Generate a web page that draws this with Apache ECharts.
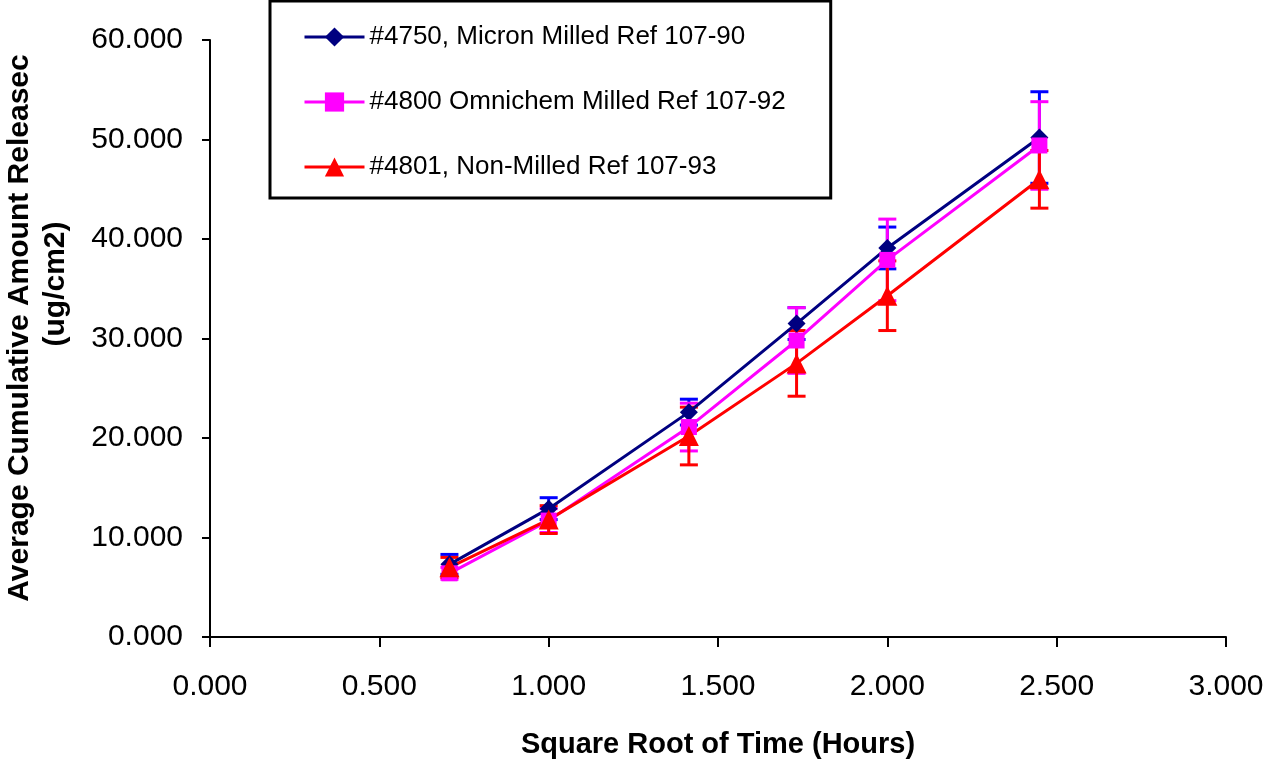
<!DOCTYPE html>
<html>
<head>
<meta charset="utf-8">
<title>Cumulative amount released</title>
<script src="https://cdn.jsdelivr.net/npm/echarts@6/dist/echarts.min.js"></script>
<style>
  html, body { margin: 0; padding: 0; background: #fff; }
  #chart { width: 1266px; height: 760px; }
</style>
</head>
<body>
<div id="chart"></div>
<script>
  const sqrtTime = [0.707, 1.0, 1.414, 1.732, 2.0, 2.449];

  const micronName = '#4750, Micron Milled Ref 107-90';
  const micronMean = [7.3, 12.9, 22.6, 31.5, 39.1, 50.2];
  const micronErr = [1.0, 1.1, 1.3, 1.6, 2.1, 4.6];

  const omniName = '#4800 Omnichem Milled Ref 107-92';
  const omniMean = [6.4, 11.7, 21.1, 29.8, 37.9, 49.4];
  const omniErr = [0.6, 1.2, 2.4, 3.3, 4.1, 4.4];

  const nonName = '#4801, Non-Milled Ref 107-93';
  const nonMean = [7.0, 11.8, 20.2, 27.5, 34.3, 46.0];
  const nonErr = [1.0, 1.4, 2.9, 3.3, 3.5, 2.9];

  const FONT = "'Liberation Sans', Arial, sans-serif";

  function pairs(means) {
    return sqrtTime.map((x, i) => [x, means[i]]);
  }

  function bars(means, errs) {
    return sqrtTime.map((x, i) => [x, means[i] - errs[i], means[i] + errs[i]]);
  }

  function errorBarSeries(means, errs, color) {
    return {
      type: 'custom',
      z: 1,
      silent: true,
      data: bars(means, errs),
      renderItem: (params, api) => {
        const x = api.value(0);
        const lo = api.coord([x, api.value(1)]);
        const hi = api.coord([x, api.value(2)]);
        const half = 9;
        const style = { stroke: color, lineWidth: 3 };
        return {
          type: 'group',
          children: [
            { type: 'line', shape: { x1: lo[0], y1: lo[1], x2: hi[0], y2: hi[1] }, style },
            { type: 'line', shape: { x1: lo[0] - half, y1: lo[1], x2: lo[0] + half, y2: lo[1] }, style },
            { type: 'line', shape: { x1: hi[0] - half, y1: hi[1], x2: hi[0] + half, y2: hi[1] }, style },
          ],
        };
      },
    };
  }

  function lineSeries(name, means, color, symbol, size) {
    return {
      name,
      type: 'line',
      z: 3,
      data: pairs(means),
      symbol,
      symbolSize: size,
      showAllSymbol: true,
      lineStyle: { color, width: 3 },
      itemStyle: { color },
      emphasis: { disabled: true },
    };
  }

  const chart = echarts.init(document.getElementById('chart'), null, { renderer: 'canvas' });

  chart.setOption({
    backgroundColor: '#fff',
    animation: false,
    grid: { left: 210, right: 40, top: 40, bottom: 123, outerBoundsMode: 'none' },
    legend: {
      orient: 'vertical',
      left: 270,
      top: 1,
      data: [micronName, omniName, nonName],
      padding: [23, 45, 18, 33],
      itemWidth: 60,
      itemHeight: 24,
      itemGap: 39,
      lineStyle: { width: 3 },
      borderColor: '#000',
      borderWidth: 3,
      backgroundColor: '#fff',
      textStyle: { fontFamily: FONT, fontSize: 26, lineHeight: 26, color: '#000' },
    },
    xAxis: {
      type: 'value',
      min: 0,
      max: 3,
      interval: 0.5,
      name: 'Square Root of Time (Hours)',
      nameLocation: 'middle',
      nameGap: 93,
      nameTextStyle: { fontFamily: FONT, fontSize: 29, fontWeight: 'bold', color: '#000' },
      axisLine: { lineStyle: { color: '#000', width: 2 } },
      axisTick: { length: 10, lineStyle: { color: '#000', width: 2 } },
      axisLabel: {
        margin: 35,
        fontFamily: FONT,
        fontSize: 30,
        color: '#000',
        formatter: (v) => v.toFixed(3),
      },
      splitLine: { show: false },
    },
    yAxis: {
      type: 'value',
      min: 0,
      max: 60,
      interval: 10,
      axisLine: { show: true, lineStyle: { color: '#000', width: 2 } },
      axisTick: { show: true, length: 8, lineStyle: { color: '#000', width: 2 } },
      axisLabel: {
        margin: 27,
        fontFamily: FONT,
        fontSize: 30,
        color: '#000',
        formatter: (v) => v.toFixed(3),
      },
      splitLine: { show: false },
    },
    graphic: [
      {
        type: 'text',
        x: 20,
        y: 328,
        rotation: Math.PI / 2,
        style: {
          text: 'Average Cumulative Amount Releasec',
          font: "bold 30px 'Liberation Sans', Arial, sans-serif",
          fill: '#000',
          align: 'center',
          verticalAlign: 'middle',
        },
      },
      {
        type: 'text',
        x: 56,
        y: 284,
        rotation: Math.PI / 2,
        style: {
          text: '(ug/cm2)',
          font: "bold 30px 'Liberation Sans', Arial, sans-serif",
          fill: '#000',
          align: 'center',
          verticalAlign: 'middle',
        },
      },
    ],
    series: [
      errorBarSeries(micronMean, micronErr, '#0000ff'),
      errorBarSeries(omniMean, omniErr, '#ff00ff'),
      errorBarSeries(nonMean, nonErr, '#ff0000'),
      lineSeries(micronName, micronMean, '#000080', 'diamond', 18),
      lineSeries(omniName, omniMean, '#ff00ff', 'rect', 16),
      lineSeries(nonName, nonMean, '#ff0000', 'triangle', 20),
    ],
  });
</script>
</body>
</html>
